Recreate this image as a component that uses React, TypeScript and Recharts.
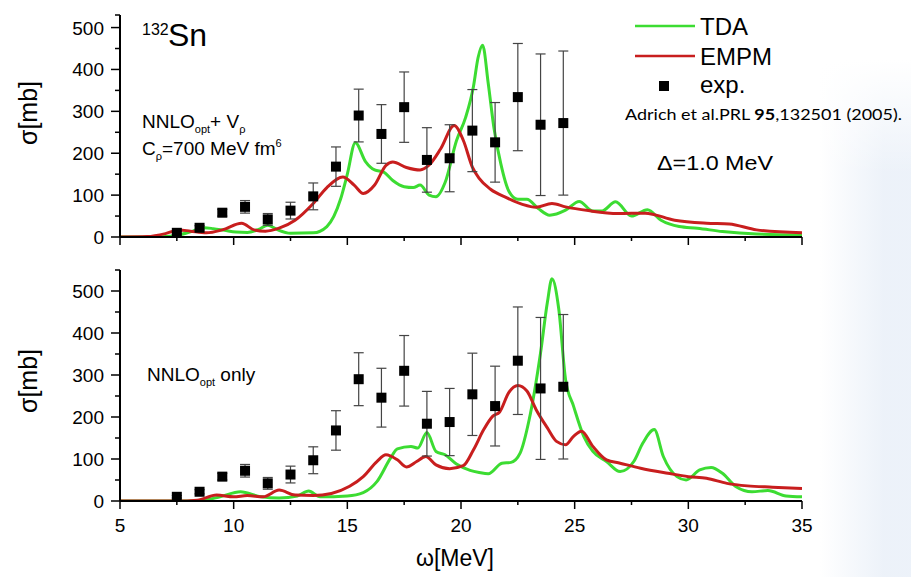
import React from 'react';
import { ComposedChart, Line, Scatter, ErrorBar, XAxis, YAxis } from 'recharts';

// exp. points (Adrich et al.), same in both panels
const expE = [7.5, 8.5, 9.5, 10.5, 11.5, 12.5, 13.5, 14.5, 15.5, 16.5, 17.5, 18.5, 19.5, 20.5, 21.5, 22.5, 23.5, 24.5];
const expS = [10, 22, 58, 72, 42, 63, 97, 168, 290, 246, 310, 184, 188, 254, 226, 334, 268, 272];
const expErr = [3, 5, 8, 15, 14, 20, 32, 47, 63, 70, 84, 77, 80, 98, 95, 128, 169, 172];

// top panel: NNLO_opt + V_rho
const tdaTopE = [
  5, 6.5, 7.2, 7.6, 8.2, 8.7, 9.1, 9.6, 10.1, 10.6,
  11.1, 11.5, 11.9, 12.5, 13.5, 14.1, 14.7, 15.0, 15.35, 15.8,
  16.2, 16.6, 17.0, 17.5, 17.9, 18.2, 18.6, 18.9, 19.3, 19.8,
  20.2, 20.55, 20.75, 20.95, 21.2, 21.45, 21.75, 22.1, 22.5, 22.9,
  23.4, 23.9, 24.6, 25.2, 25.8, 26.2, 26.8, 27.5, 28.2, 28.8,
  29.6, 30.4, 31.5, 33, 35,
];
const tdaTopS = [
  0, 0, 2, 5, 14, 22, 20, 16, 12, 11,
  18, 28, 18, 9, 10, 25, 90, 150, 225, 180,
  160, 155, 135, 120, 118, 124, 100, 96, 130, 230,
  285, 360, 428, 458, 366, 260, 175, 110, 90, 90,
  68, 52, 64, 85, 62, 62, 84, 50, 65, 40,
  25, 21, 13, 7, 5,
];
const empmTopE = [
  5, 6.2, 7.0, 7.6, 8.1, 8.8, 9.5, 10.35, 10.9, 11.4,
  12.0, 12.7, 13.5, 14.1, 14.8, 15.3, 15.7, 16.2, 16.7, 17.0,
  17.6, 18.2, 18.6, 19.1, 19.7, 20.1, 20.5, 20.8, 21.3, 22.0,
  22.7, 23.3, 24.0, 24.6, 25.6, 26.9, 28.1, 29.4, 30.8, 31.8,
  33.0, 35,
];
const empmTopS = [
  0, 1, 8, 17, 14, 10, 17, 33, 17, 14,
  21, 40, 80, 118, 143, 124, 104, 124, 171, 179,
  166, 160, 172, 210, 266, 231, 167, 140, 114, 94,
  78, 71, 80, 72, 63, 56, 57, 40, 33, 31,
  17, 10,
];

// bottom panel: NNLO_opt only
const tdaBotE = [
  5, 8.0, 8.7, 9.4, 10.3, 11.2, 12.0, 12.8, 13.3, 13.8,
  15.0, 15.7, 16.3, 16.9, 17.2, 17.8, 18.1, 18.5, 18.9, 19.3,
  19.8, 20.4, 20.8, 21.2, 21.8, 22.2, 22.6, 23.0, 23.5, 23.8,
  24.0, 24.3, 24.6, 24.95, 25.4, 25.8, 26.4, 27.0, 27.6, 28.0,
  28.5, 28.9, 29.5, 29.9, 30.5, 31.0, 31.5, 32.1, 32.8, 33.5,
  34.3, 35,
];
const tdaBotS = [
  0, 0, 2, 10, 22, 10, 7, 12, 24, 10,
  12, 20, 46, 102, 124, 130, 126, 163, 118, 110,
  88, 73, 68, 65, 90, 92, 114, 194, 353, 473,
  529, 457, 289, 226, 154, 118, 94, 70, 94, 138,
  170, 106, 58, 50, 74, 80, 66, 34, 22, 25,
  12, 10,
];
const empmBotE = [
  5, 7.5, 8.4, 9.25, 10.0, 10.6, 11.3, 12.0, 12.7, 13.5,
  14.3, 15.1, 15.7, 16.3, 16.7, 17.2, 17.6, 18.05, 18.45, 18.9,
  19.5, 20.1, 20.55, 21.0, 21.4, 21.7, 22.1, 22.5, 22.9, 23.3,
  23.8, 24.2, 24.6, 24.95, 25.3, 25.8, 26.4, 27.0, 27.9, 29.1,
  30.0, 30.8, 31.7, 32.6, 33.7, 35,
];
const empmBotS = [
  0, 0, 2, 14, 10, 13, 10, 26, 14, 13,
  18, 35, 58, 94, 110, 98, 81, 94, 106, 86,
  77, 84, 122, 170, 202, 212, 258, 275, 262, 218,
  174, 142, 134, 154, 166, 130, 98, 90, 78, 66,
  58, 54, 42, 36, 33, 30,
];

const xTicks = [5, 7.5, 10, 12.5, 15, 17.5, 20, 22.5, 25, 27.5, 30, 32.5, 35];
const yTicksTop = [0, 50, 100, 150, 200, 250, 300, 350, 400, 450, 500, 530];
const yTicksBot = [0, 50, 100, 150, 200, 250, 300, 350, 400, 450, 500, 550];

const GREEN = '#3cdc32';
const RED = '#c81e1e';
const FONT = '"Liberation Sans", Arial, sans-serif';

const zip = (e: number[], s: number[]) => e.map((x, i) => ({ e: x, s: s[i] }));
const expData = expE.map((x, i) => ({ e: x, s: expS[i], err: expErr[i] }));

const Square = (p: any) => <rect x={p.cx - 5} y={p.cy - 5} width={10} height={10} fill="#000" />;

const XTick = (p: any, showLabel: boolean) => {
  const v = p.payload.value;
  const major = v % 5 === 0;
  return (
    <g>
      <line x1={p.x} x2={p.x} y1={p.y} y2={p.y + (major ? 8 : 4)} stroke="#000" strokeWidth={1.5} />
      {showLabel && major && (
        <text x={p.x} y={p.y + 31} textAnchor="middle" fontSize={19} fontFamily={FONT} fill="#000">
          {v}
        </text>
      )}
    </g>
  );
};

const YTick = (p: any) => {
  const v = p.payload.value;
  const major = v % 100 === 0;
  return (
    <g>
      <line x1={p.x - (major ? 9 : 5)} x2={p.x} y1={p.y} y2={p.y} stroke="#000" strokeWidth={1.5} />
      {major && v <= 500 && (
        <text x={p.x - 16} y={p.y + 7} textAnchor="end" fontSize={19} fontFamily={FONT} fill="#000">
          {v}
        </text>
      )}
    </g>
  );
};

type PanelProps = {
  height: number;
  margin: { top: number; right: number; bottom: number; left: number };
  xAxisHeight: number;
  yMax: number;
  yTicks: number[];
  showXLabels: boolean;
  tda: { e: number; s: number }[];
  empm: { e: number; s: number }[];
};

const Panel = ({ height, margin, xAxisHeight, yMax, yTicks, showXLabels, tda, empm }: PanelProps) => (
  <ComposedChart width={911} height={height} margin={margin}>
    <XAxis
      dataKey="e"
      type="number"
      domain={[5, 35]}
      ticks={xTicks}
      interval={0}
      allowDataOverflow
      height={xAxisHeight}
      axisLine={{ stroke: '#000', strokeWidth: 2 }}
      tickLine={false}
      tickSize={0}
      tickMargin={0}
      tick={(p: any) => XTick(p, showXLabels)}
    />
    <YAxis
      type="number"
      domain={[0, yMax]}
      ticks={yTicks}
      interval={0}
      allowDataOverflow
      width={60}
      axisLine={{ stroke: '#000', strokeWidth: 2 }}
      tickLine={false}
      tickSize={0}
      tickMargin={0}
      tick={YTick}
    />
    <Line data={tda} dataKey="s" type="monotone" stroke={GREEN} strokeWidth={3} dot={false} isAnimationActive={false} />
    <Line data={empm} dataKey="s" type="monotone" stroke={RED} strokeWidth={3} dot={false} isAnimationActive={false} />
    <Scatter data={expData} dataKey="s" shape={Square} isAnimationActive={false}>
      <ErrorBar dataKey="err" direction="y" width={5} stroke="#444" strokeWidth={1.2} />
    </Scatter>
  </ComposedChart>
);

export default function App() {
  return (
    <div style={{ position: 'fixed', left: 0, top: 0, width: 911, height: 577, background: '#fff', fontFamily: FONT }}>
      {/* faint slide background on the right */}
      <div
        style={{
          position: 'absolute',
          left: 820,
          top: 60,
          width: 91,
          height: 517,
          background:
            'linear-gradient(180deg, #fff 0%, rgba(255,255,255,0) 22%), linear-gradient(90deg, rgba(255,255,255,0) 0%, rgba(214,226,242,0.45) 70%, rgba(218,229,244,0.5) 100%)',
        }}
      />
      <div style={{ position: 'absolute', left: 0, top: 0 }}>
        <Panel
          height={250}
          margin={{ top: 15, right: 109, bottom: 3, left: 60 }}
          xAxisHeight={10}
          yMax={530}
          yTicks={yTicksTop}
          showXLabels={false}
          tda={zip(tdaTopE, tdaTopS)}
          empm={zip(empmTopE, empmTopS)}
        />
      </div>
      <div style={{ position: 'absolute', left: 0, top: 250 }}>
        <Panel
          height={327}
          margin={{ top: 20, right: 109, bottom: 36, left: 60 }}
          xAxisHeight={40}
          yMax={550}
          yTicks={yTicksBot}
          showXLabels={true}
          tda={zip(tdaBotE, tdaBotS)}
          empm={zip(empmBotE, empmBotS)}
        />
      </div>
      <svg
        width={911}
        height={577}
        style={{ position: 'absolute', left: 0, top: 0, pointerEvents: 'none' }}
        fontFamily={FONT}
        fill="#000"
      >
        {/* panel labels */}
        <text x={142} y={35} fontSize={16}>132</text>
        <text x={168} y={46} fontSize={32}>Sn</text>
        <text x={142} y={128} fontSize={19}>
          NNLO<tspan fontSize={11} dy={5}>opt</tspan>
          <tspan fontSize={19} dy={-5}>+ V</tspan>
          <tspan fontSize={11} dy={5}>ρ</tspan>
        </text>
        <text x={142} y={155} fontSize={19}>
          C<tspan fontSize={11} dy={5}>ρ</tspan>
          <tspan fontSize={19} dy={-5}>=700 MeV fm</tspan>
          <tspan fontSize={11} dy={-8}>6</tspan>
        </text>
        <text x={147} y={381} fontSize={19}>
          NNLO<tspan fontSize={11} dy={5}>opt</tspan>
          <tspan fontSize={19} dy={-5}> only</tspan>
        </text>

        {/* legend */}
        <line x1={635} x2={695} y1={26} y2={26} stroke={GREEN} strokeWidth={2.5} />
        <text x={700} y={35} fontSize={24}>TDA</text>
        <line x1={635} x2={695} y1={56} y2={56} stroke={RED} strokeWidth={2.5} />
        <text x={700} y={65} fontSize={24}>EMPM</text>
        <rect x={659} y={81} width={10} height={10} fill="#000" />
        <text x={700} y={93} fontSize={24}>exp.</text>
        <text x={625} y={120} fontSize={16} fontFamily="Lato, 'Open Sans', sans-serif" textLength={277} lengthAdjust="spacingAndGlyphs">
          Adrich et al.PRL <tspan fontWeight="bold">95</tspan>,132501 (2005).
        </text>
        <text x={657} y={170} fontSize={21} textLength={116} lengthAdjust="spacingAndGlyphs">Δ=1.0 MeV</text>

        {/* axis titles */}
        <text transform="translate(37,113) rotate(-90)" textAnchor="middle" fontSize={25}>σ[mb]</text>
        <text transform="translate(37,381) rotate(-90)" textAnchor="middle" fontSize={25}>σ[mb]</text>
        <text x={455} y={566} textAnchor="middle" fontSize={23}>ω[MeV]</text>
      </svg>
    </div>
  );
}
